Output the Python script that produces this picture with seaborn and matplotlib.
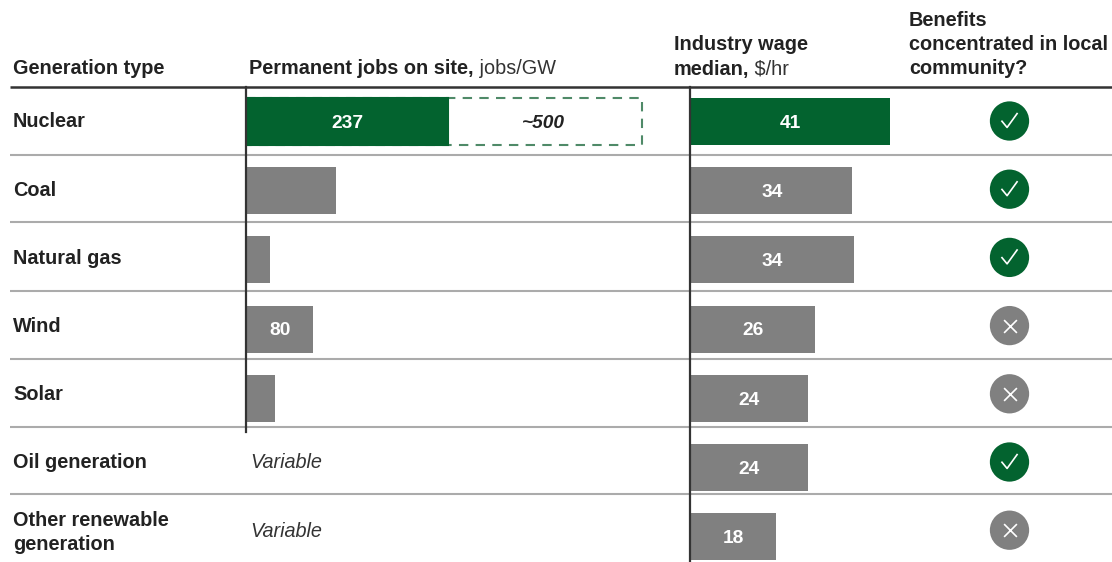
import numpy as np
import pandas as pd
import matplotlib
matplotlib.use("Agg")
import matplotlib.pyplot as plt
from matplotlib.path import Path
import seaborn as sns

# ---- data ----
categories = ["Nuclear", "Coal", "Natural gas", "Wind", "Solar", "Oil generation", "Other renewable\ngeneration"]
jobs_values = [237, 106, 28, 79, 34, np.nan, np.nan]
jobs_labels = ["237", "", "", "80", "", "", ""]
jobs_extended = [465]
jobs_extended_label = "~500"
jobs_missing_label = "Variable"
wage_values = [41, 33.4, 33.8, 25.7, 24.2, 24.2, 17.7]
wage_labels = ["41", "34", "34", "26", "24", "24", "18"]
local_benefit = [True, True, True, False, False, True, False]
header_generation = "Generation type"
header_jobs = ("Permanent jobs on site,", " jobs/GW")
header_wage = ("Industry wage", "median,", " $/hr")
header_benefit = ["Benefits", "concentrated in local", "community?"]

GREEN, GREY, DASH, INK = "#03632F", "#808080", "#4F8A68", "#222222"
W, H = 1112, 562

sns.set_theme(style="white")
plt.rcParams["font.family"] = ["Liberation Sans", "DejaVu Sans"]
fs = 14.3

fig = plt.figure(figsize=(W / 100, H / 100), dpi=100, facecolor="white")

def px_axes(x0, y0, x1, y1, **kw):
    return fig.add_axes([x0 / W, 1 - y1 / H, (x1 - x0) / W, (y1 - y0) / H], **kw)

# background layer in pixel space: table rules and headers
bg = px_axes(0, 0, W, H)
bg.set_xlim(0, W); bg.set_ylim(H, 0); bg.axis("off")
bg.hlines(87, 10, W, color="#333333", lw=1.8)
bg.hlines([155, 222, 291, 358.5, 426.5, 494], 10, W, color="#ABABAB", lw=1.5)

def head(x, y, s, **kw):
    return bg.text(x, y, s, fontsize=fs, color=INK, va="center", ha="left", **kw)

head(13, 69, header_generation, fontweight="bold")
t = head(249, 68.5, header_jobs[0], fontweight="bold")
bg.annotate(header_jobs[1], xy=(1, 0), xycoords=t, va="bottom", ha="left", fontsize=fs, color="#333333")
head(674, 45, header_wage[0], fontweight="bold")
t = head(674, 69, header_wage[1], fontweight="bold")
bg.annotate(header_wage[2], xy=(1, 0), xycoords=t, va="bottom", ha="left", fontsize=fs, color="#333333")
for yy, s in zip([21, 45, 69], header_benefit):
    head(909, yy, s, fontweight="bold")

# shared row geometry of the bars
row0, row_h = 121.5, 69.2
ymax = (H - row0) / row_h

def style_axes(ax):
    ax.set_ylim(ymax, -0.5)
    ax.set_xlabel(""); ax.set_ylabel("")
    ax.set_xticks([]); ax.set_yticks([])
    ax.patch.set_alpha(0)
    for s in ["top", "right", "bottom"]:
        ax.spines[s].set_visible(False)
    ax.spines["left"].set_color("#333333")
    ax.spines["left"].set_linewidth(1.6)

# jobs panel
df = pd.DataFrame({"cat": categories, "jobs": jobs_values, "wage": wage_values,
                   "group": ["hi"] + ["other"] * 6})
ax1 = px_axes(246, 87, 670, H)
sns.barplot(y=categories[:1], x=jobs_extended, order=categories, ax=ax1, width=0.68,
            color="white", saturation=1, edgecolor=DASH, linewidth=1.5, linestyle=(0, (4.5, 3.5)))
sns.barplot(data=df, y="cat", x="jobs", hue="group", order=categories, dodge=False,
            palette={"hi": GREEN, "other": GREY}, saturation=1, width=0.68, legend=False,
            ax=ax1, linewidth=0)
ax1.set_xlim(0, 424 / 0.852)
style_axes(ax1)
ax1.spines["left"].set_bounds(-0.5, 4.49)
for p in ax1.containers[1]:
    p.set_edgecolor(GREEN)
    p.set_linewidth(1.5)

def label_bars(ax, labels, skip=0):
    for c in ax.containers[skip:]:
        idx = [int(round(b.get_y() + b.get_height() / 2)) for b in c]
        anns = ax.bar_label(c, labels=[labels[i] for i in idx], label_type="center",
                            color="white", fontweight="bold", fontsize=13.8)
        for a in anns:
            a.xyann = (0.5, -1.3)

label_bars(ax1, jobs_labels, skip=1)
ax1.text((jobs_values[0] + jobs_extended[0]) / 2 - 2, 0.025, jobs_extended_label, ha="center", va="center",
         fontsize=13.8, fontweight="bold", fontstyle="italic", color=INK)

# wage panel
ax2 = px_axes(689.5, 87, 905, H)
sns.barplot(data=df, y="cat", x="wage", hue="group", order=categories, dodge=False,
            palette={"hi": GREEN, "other": GREY}, saturation=1, width=0.68, legend=False,
            ax=ax2, linewidth=0)
ax2.set_xlim(0, 215.5 / 4.88)
style_axes(ax2)
label_bars(ax2, wage_labels)

# label/icon layer: rows sit on a slightly tighter pitch than the bars
icon_h = 68.2
ax3 = px_axes(0, 0, W, H)
ax3.patch.set_alpha(0); ax3.axis("off")
ax3.set_xlim(0, W)
ax3.set_ylim((H - 121) / icon_h, -121 / icon_h)

rows = np.arange(len(categories))
for i, c in enumerate(categories):
    dy = 0.035 if "\n" in c else 0.012
    ax3.text(13, i + dy, c, fontsize=fs, fontweight="bold", color=INK, va="center", ha="left", linespacing=1.38)
for i in rows[np.isnan(jobs_values)]:
    ax3.text(250, i + 0.012, jobs_missing_label, fontsize=fs, fontstyle="italic", color="#333333", va="center", ha="left")

benefit = np.array(local_benefit)
col_x = np.full(len(rows), 1009.5)
sns.scatterplot(x=col_x, y=rows, hue=benefit, palette={True: GREEN, False: GREY}, s=800,
                linewidth=0, legend=False, ax=ax3)
ax3.set_xlim(0, W)
ax3.set_ylim((H - 121) / icon_h, -121 / icon_h)
check = Path([(-1.0, 0.05), (-0.3, -0.8), (1.0, 1.0)], [Path.MOVETO, Path.LINETO, Path.LINETO])
ax3.scatter(col_x[benefit], rows[benefit], marker=check, s=135, facecolors="none", edgecolors="white", linewidths=1.2)
ax3.scatter(col_x[~benefit], rows[~benefit], marker="x", s=85, c="white", linewidths=1.2)
ax3.set_xlabel(""); ax3.set_ylabel("")

fig.savefig("out.png", dpi=100, facecolor="white")
